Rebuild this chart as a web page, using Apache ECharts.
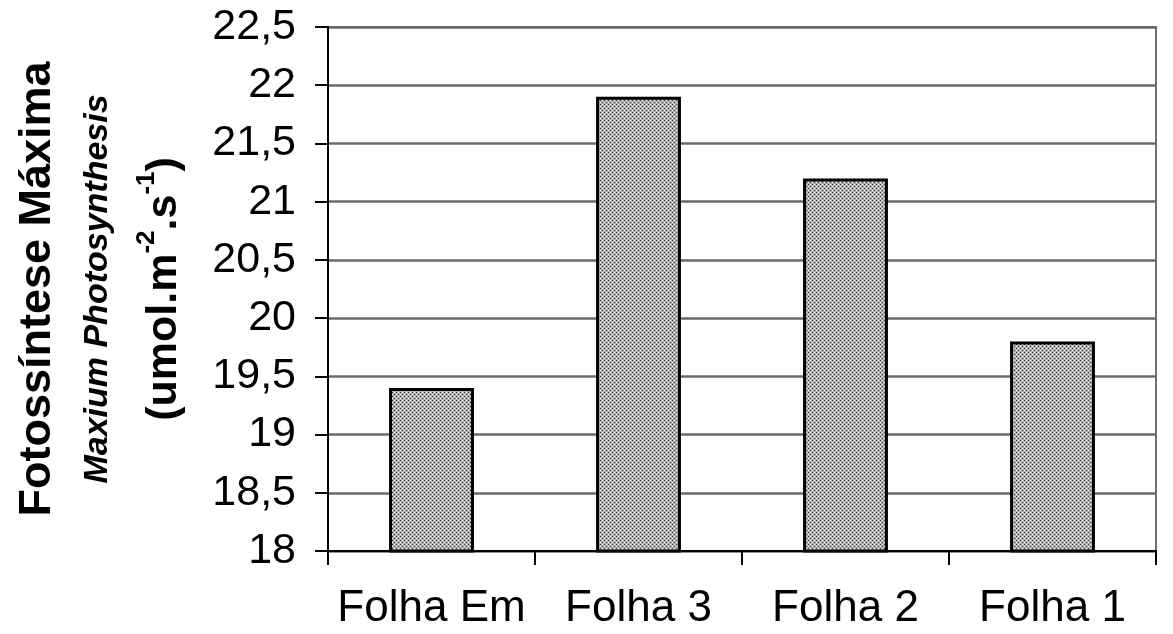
<!DOCTYPE html>
<html>
<head>
<meta charset="utf-8">
<script src="https://cdn.jsdelivr.net/npm/echarts@6/dist/echarts.min.js"></script>
<style>
html,body{margin:0;padding:0;background:#fff;}
#chart{width:1173px;height:634px;}
</style>
</head>
<body>
<div id="chart"></div>
<script>
const categories = ['Folha Em', 'Folha 3', 'Folha 2', 'Folha 1'];
const values = [19.4, 21.9, 21.2, 19.8];
const yMin = 18, yMax = 22.5, yStep = 0.5;
const titleMain = 'Fotossíntese Máxima';
const titleSub = 'Maxium Photosynthesis';

// dotted gray pattern for bar fill
const pc = document.createElement('canvas');
pc.width = 4; pc.height = 4;
const g = pc.getContext('2d');
g.fillStyle = '#b0b0b0'; g.fillRect(0, 0, 4, 4);
g.fillStyle = '#3c3c3c'; g.fillRect(0, 0, 1, 1); g.fillRect(2, 2, 1, 1);
g.fillStyle = '#f0f0f0'; g.fillRect(2, 0, 1, 1); g.fillRect(0, 2, 1, 1);

const FONT = '"Liberation Sans", Arial, sans-serif';
const chart = echarts.init(document.getElementById('chart'));
chart.setOption({
  backgroundColor: '#fff',
  animation: false,
  grid: { left: 328, right: 17, top: 27, bottom: 83, show: true, borderColor: '#707070', borderWidth: 2, backgroundColor: 'transparent' },
  xAxis: {
    type: 'category',
    data: categories,
    boundaryGap: true,
    axisLine: { lineStyle: { color: '#000', width: 2 } },
    axisTick: { show: true, interval: 0, alignWithLabel: false, length: 14, lineStyle: { color: '#000', width: 2 } },
    axisLabel: { interval: 0, color: '#000', fontFamily: FONT, fontSize: 44, margin: 36 }
  },
  yAxis: {
    type: 'value',
    min: yMin, max: yMax, interval: yStep,
    axisLine: { show: true, lineStyle: { color: '#000', width: 2 } },
    axisTick: { show: true, length: 13, lineStyle: { color: '#000', width: 2 } },
    axisLabel: { color: '#000', fontFamily: FONT, fontSize: 43, margin: 32,
      formatter: v => String(v).replace('.', ',') },
    splitLine: { show: true, lineStyle: { color: '#6a6a6a', width: 2.5 } }
  },
  series: [{
    type: 'bar',
    data: values,
    barWidth: '41%',
    itemStyle: { color: { image: pc, repeat: 'repeat' }, borderColor: '#000', borderWidth: 3 }
  }],
  graphic: [
    { type: 'text', x: 38, y: 289, rotation: Math.PI / 2,
      style: { text: titleMain, font: 'bold 45px ' + FONT, fill: '#000', align: 'center', verticalAlign: 'middle' } },
    { type: 'text', x: 98, y: 289, rotation: Math.PI / 2,
      style: { text: titleSub, font: 'italic bold 34px ' + FONT, fill: '#000', align: 'center', verticalAlign: 'middle' } },
    { type: 'text', x: 160, y: 289, rotation: Math.PI / 2,
      style: {
        text: '{m|(umol.m}{s|-2}{m|.s}{s|-1}{m|)}',
        align: 'center', verticalAlign: 'middle',
        rich: {
          m: { font: 'bold 43px ' + FONT, fill: '#000', lineHeight: 52, verticalAlign: 'bottom' },
          s: { font: 'bold 26px ' + FONT, fill: '#000', lineHeight: 52, verticalAlign: 'top' }
        }
      } }
  ]
});
</script>
</body>
</html>
